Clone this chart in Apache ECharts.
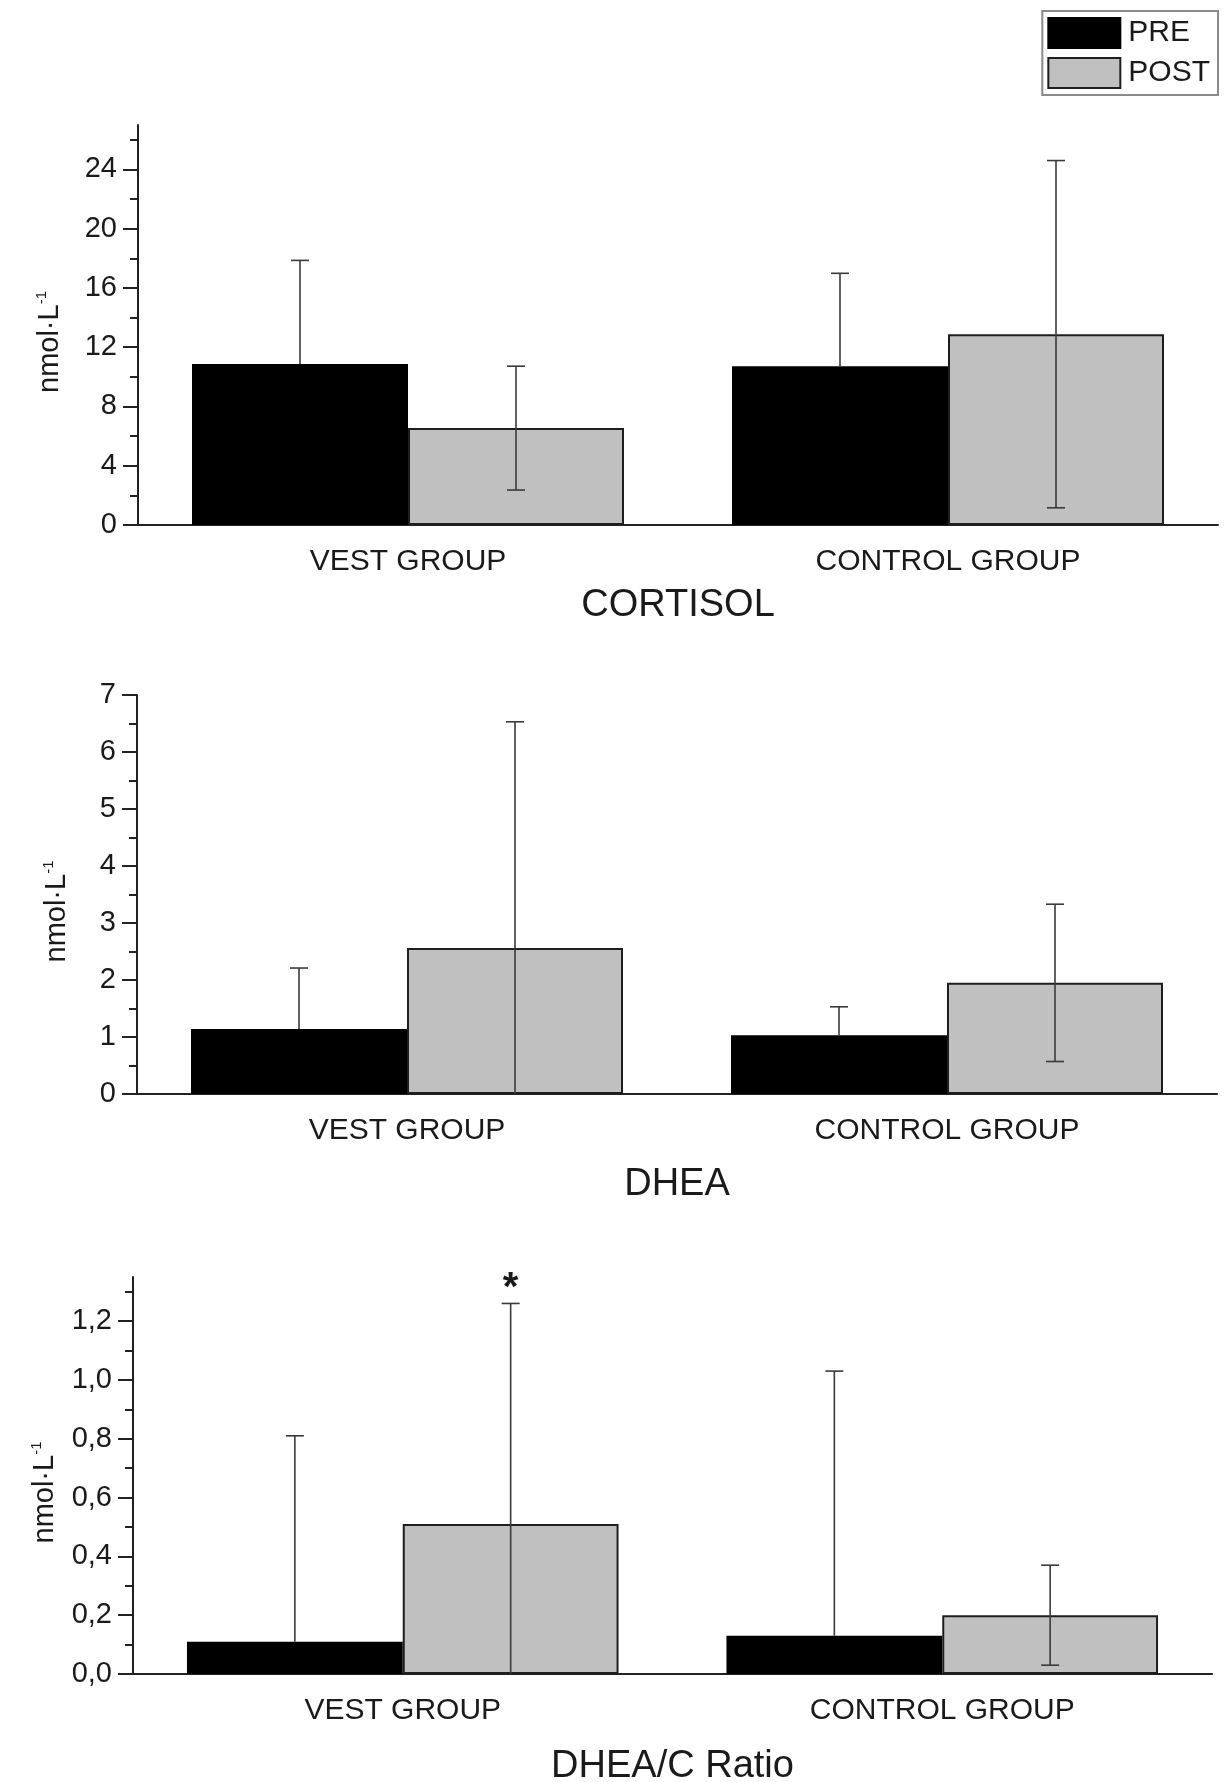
<!DOCTYPE html>
<html>
<head>
<meta charset="utf-8">
<script src="https://cdn.jsdelivr.net/npm/echarts@6/dist/echarts.min.js"></script>
<style>
    html, body { margin: 0; padding: 0; background: #fff; }
    #el { width: 1225px; height: 1782px; }
</style>
</head>
<body>
<div id="el"></div>
<script>
// categories + legend
let groups = ['VEST GROUP', 'CONTROL GROUP']
let seriesNames = ['PRE', 'POST']

// CORTISOL
let cortisolPre = [10.86, 10.72]
let cortisolPreErr = [7.0, 6.27]
let cortisolPost = [6.54, 12.88]
let cortisolPostErr = [4.18, 11.72]
let cortisolTicks = [0, 4, 8, 12, 16, 20, 24]
let cortisolMinor = [2, 6, 10, 14, 18, 22, 26]

// DHEA
let dheaPre = [1.14, 1.03]
let dheaPreErr = [1.07, 0.5]
let dheaPost = [2.56, 1.95]
let dheaPostErr = [3.97, 1.38]
let dheaTicks = [0, 1, 2, 3, 4, 5, 6, 7]
let dheaMinor = [0.5, 1.5, 2.5, 3.5, 4.5, 5.5, 6.5]

// DHEA/C Ratio
let ratioPre = [0.11, 0.13]
let ratioPreErr = [0.70, 0.90]
let ratioPost = [0.51, 0.20]
let ratioPostErr = [0.75, 0.17]
let ratioMarks = ['*', '']
let ratioTicks = [0, 0.2, 0.4, 0.6, 0.8, 1.0, 1.2]
let ratioMinor = [0.1, 0.3, 0.5, 0.7, 0.9, 1.1, 1.3]

let textColor = '#1a1a1a'
let font = 'Liberation Sans, Arial, sans-serif'

let panels = [
    {title: 'CORTISOL', pre: cortisolPre, preErr: cortisolPreErr, post: cortisolPost, postErr: cortisolPostErr,
        ticks: cortisolTicks, minor: cortisolMinor, max: 27, fmt: v => String(v),
        grid: {left: 138, top: 125, width: 1080, height: 400}, nameGap: 62, yNameGap: 72},
    {title: 'DHEA', pre: dheaPre, preErr: dheaPreErr, post: dheaPost, postErr: dheaPostErr,
        ticks: dheaTicks, minor: dheaMinor, max: 7, fmt: v => String(v),
        grid: {left: 137, top: 695, width: 1080, height: 399}, nameGap: 72, yNameGap: 64},
    {title: 'DHEA/C Ratio', pre: ratioPre, preErr: ratioPreErr, post: ratioPost, postErr: ratioPostErr, marks: ratioMarks,
        ticks: ratioTicks, minor: ratioMinor, max: 1.35, fmt: v => v.toFixed(1).replace('.', ','),
        grid: {left: 133, top: 1277, width: 1079, height: 397}, nameGap: 74, yNameGap: 72}
]

// error bar drawn at the centre of the PRE (side -1) or POST (side 1) bar
function errorBar(side, upperOnly) {
    return function (params, api) {
        let cat = api.value(0)
        let v = api.value(1)
        let e = api.value(2)
        let mark = api.value(3)
        let band = api.size([1, 0])[0]
        let off = side * band * 0.2
        let hiPt = api.coord([cat, v + e])
        let lo = upperOnly ? v : Math.max(0, v - e)
        let loPt = api.coord([cat, lo])
        let x = hiPt[0] + off
        let cap = 9
        let st = {stroke: '#3a3a3a', lineWidth: 1.6}
        let children = [
            {type: 'line', shape: {x1: x, y1: hiPt[1], x2: x, y2: loPt[1]}, style: st},
            {type: 'line', shape: {x1: x - cap, y1: hiPt[1], x2: x + cap, y2: hiPt[1]}, style: st}
        ]
        if (!upperOnly && v - e >= 0) {
            children.push({type: 'line', shape: {x1: x - cap, y1: loPt[1], x2: x + cap, y2: loPt[1]}, style: st})
        }
        if (mark && mark !== '-') {
            children.push({type: 'text', x: x, y: hiPt[1] + 6,
                style: {text: mark, fill: textColor, font: 'bold 40px ' + font, align: 'center', verticalAlign: 'bottom'}})
        }
        return {type: 'group', children: children}
    }
}

let option = {
    backgroundColor: '#fff',
    textStyle: {fontFamily: font, color: textColor},
    animation: false,
    legend: {
        data: seriesNames,
        orient: 'vertical',
        icon: 'rect',
        right: 7,
        top: 11,
        padding: [6, 8, 6, 5],
        itemGap: 8,
        itemWidth: 72,
        itemHeight: 30,
        borderColor: '#8a8a8a',
        borderWidth: 2,
        textStyle: {fontSize: 30, color: textColor, fontFamily: font, padding: [0, 0, 0, 3]}
    },
    grid: [],
    xAxis: [],
    yAxis: [],
    series: []
}

panels.forEach((p, i) => {
    option.grid.push(Object.assign({outerBoundsMode: 'none', containLabel: false}, p.grid))
    option.xAxis.push({
        type: 'category',
        gridIndex: i,
        data: groups,
        name: p.title,
        nameLocation: 'middle',
        nameGap: p.nameGap,
        nameTextStyle: {fontSize: 38, color: textColor, fontFamily: font},
        axisLine: {lineStyle: {color: '#222', width: 2}},
        axisTick: {alignWithLabel: true, length: 12, lineStyle: {color: '#222', width: 1.5}},
        axisLabel: {fontSize: 30, color: textColor, margin: 22, fontFamily: font},
        splitLine: {show: false}
    })
    // major ticks + labels + axis name
    option.yAxis.push({
        type: 'value',
        gridIndex: i,
        position: 'left',
        min: 0,
        max: p.max,
        name: '{a|nmol·L}{b|-1}',
        nameLocation: 'middle',
        nameRotate: 90,
        nameGap: p.yNameGap,
        nameTextStyle: {
            color: textColor,
            padding: [0, 34, 0, 0],
            rich: {
                a: {fontSize: 29, fontFamily: font, color: textColor, lineHeight: 32},
                b: {fontSize: 15, fontFamily: font, color: textColor, verticalAlign: 'top', lineHeight: 32}
            }
        },
        axisLine: {show: true, lineStyle: {color: '#222', width: 2}},
        axisTick: {show: true, length: 15, customValues: p.ticks, lineStyle: {color: '#222', width: 2}},
        axisLabel: {fontSize: 29, color: textColor, margin: 21, customValues: p.ticks, formatter: p.fmt, fontFamily: font},
        splitLine: {show: false}
    })
    // minor ticks
    option.yAxis.push({
        type: 'value',
        gridIndex: i,
        position: 'left',
        offset: 0,
        min: 0,
        max: p.max,
        axisLine: {show: false},
        axisTick: {show: true, length: 8, customValues: p.minor, lineStyle: {color: '#222', width: 2}},
        axisLabel: {show: false},
        splitLine: {show: false}
    })

    option.series.push({
        name: 'PRE', type: 'bar', xAxisIndex: i, yAxisIndex: i * 2,
        data: p.pre, barGap: '0%', barCategoryGap: '20%',
        itemStyle: {color: '#000', borderColor: '#000', borderWidth: 2}
    })
    option.series.push({
        name: 'POST', type: 'bar', xAxisIndex: i, yAxisIndex: i * 2,
        data: p.post, barGap: '0%', barCategoryGap: '20%',
        itemStyle: {color: '#c0c0c0', borderColor: '#1e1e1e', borderWidth: 2}
    })
    option.series.push({
        type: 'custom', xAxisIndex: i, yAxisIndex: i * 2, z: 5,
        renderItem: errorBar(-1, true),
        data: p.pre.map((v, k) => [k, v, p.preErr[k], '-'])
    })
    option.series.push({
        type: 'custom', xAxisIndex: i, yAxisIndex: i * 2, z: 5,
        renderItem: errorBar(1, false),
        data: p.post.map((v, k) => [k, v, p.postErr[k], p.marks ? (p.marks[k] || '-') : '-'])
    })
})

let myChart = echarts.init(document.querySelector('#el'))
myChart.setOption(option)
</script>
</body>
</html>
